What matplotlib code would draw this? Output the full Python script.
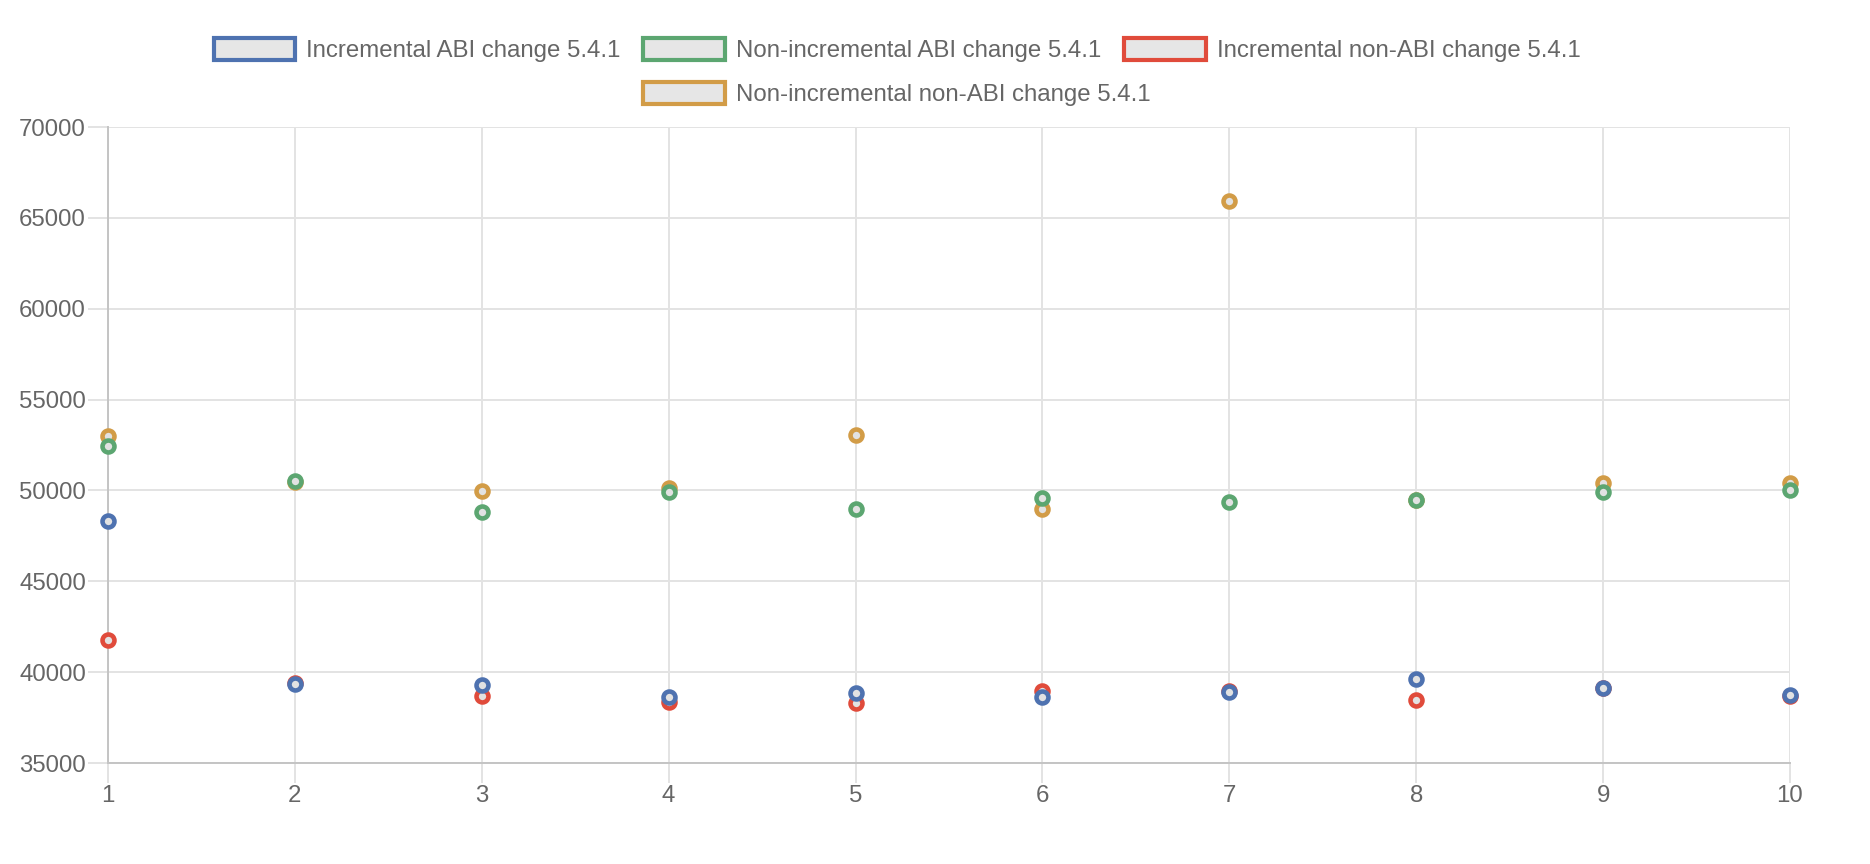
import matplotlib
matplotlib.use("Agg")
import matplotlib.pyplot as plt
from matplotlib.patches import Patch

runs = [1, 2, 3, 4, 5, 6, 7, 8, 9, 10]

inc_abi = [48310, 39360, 39300, 38620, 38840, 38620, 38920, 39620, 39140, 38720]
noninc_abi = [52430, 50510, 48840, 49890, 48990, 49610, 49390, 49450, 49890, 50020]
inc_nonabi = [41780, 39390, 38660, 38350, 38290, 38950, 38950, 38490, 39110, 38660]
noninc_nonabi = [53000, 50480, 49980, 50160, 53060, 48990, 65950, 49470, 50420, 50420]

labels = ["Incremental ABI change 5.4.1", "Non-incremental ABI change 5.4.1",
          "Incremental non-ABI change 5.4.1", "Non-incremental non-ABI change 5.4.1"]
colors = ["#4e72b0", "#5ca671", "#e04b3b", "#d29c47"]
series = [inc_abi, noninc_abi, inc_nonabi, noninc_nonabi]

plt.rcParams['font.family'] = ['Liberation Sans', 'DejaVu Sans']
txt = '#666666'
grid = '#e3e3e3'

fig = plt.figure(figsize=(18.7, 8.64), dpi=100)
ax = fig.add_axes([108/1870, 1 - 763/864, (1790 - 108)/1870, (763 - 127)/864])

# chart.js draws first dataset on top
for i, (ys, c) in enumerate(zip(series, colors)):
    ax.plot(runs, ys, linestyle='none', marker='o', markersize=8.6,
            markeredgewidth=3.3, markeredgecolor=c, markerfacecolor='#e2e2e2',
            zorder=10 - i, clip_on=False)

ax.set_xlim(1, 10)
ax.set_ylim(35000, 70000)
ax.set_xticks(runs)
ax.set_yticks(range(35000, 70001, 5000))
ax.grid(True, color=grid, linewidth=1.4)
ax.set_axisbelow(True)
for s in ['top', 'right']:
    ax.spines[s].set_visible(False)
for s in ['left', 'bottom']:
    ax.spines[s].set_color('#c4c4c4')
    ax.spines[s].set_linewidth(1.4)
ax.tick_params(axis='both', length=14.4, width=1.4, color=grid,
               labelcolor=txt, labelsize=17.3, pad=1.5)

handles = [Patch(facecolor='#e6e6e6', edgecolor=c, linewidth=3.0) for c in colors]
leg_kw = dict(frameon=False, fontsize=17.3, labelcolor=txt, handlelength=3.4,
              handleheight=1.0, handletextpad=0.45, columnspacing=0.95,
              borderpad=0, borderaxespad=0)
fig.legend(handles[:3], labels[:3], ncol=3, loc='center',
           bbox_to_anchor=(897/1870, 1 - 50/864), **leg_kw)
fig.legend(handles[3:], labels[3:], ncol=1, loc='center',
           bbox_to_anchor=(897/1870, 1 - 94/864), **leg_kw)

fig.savefig("out.png", dpi=100)
